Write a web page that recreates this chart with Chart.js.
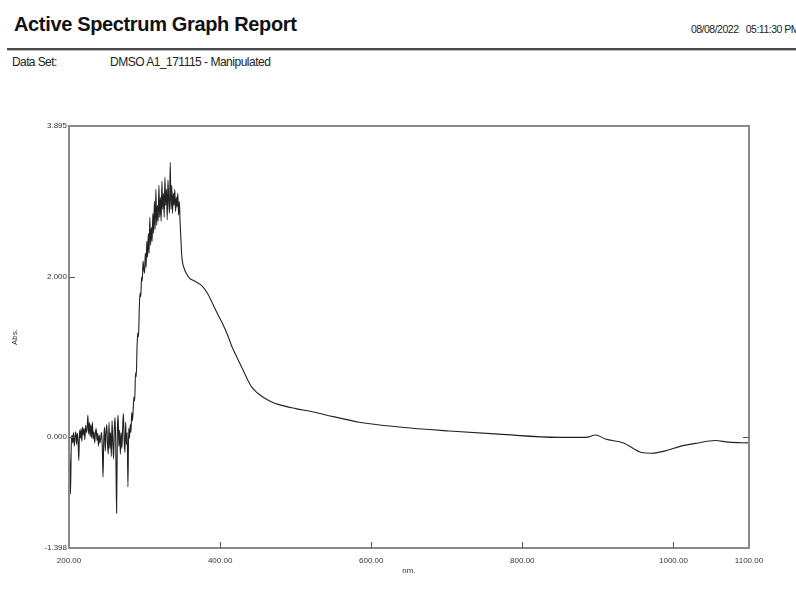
<!DOCTYPE html>
<html>
<head>
<meta charset="utf-8">
<script src="https://cdn.jsdelivr.net/npm/chart.js@4/dist/chart.umd.min.js"></script>
<style>
  html, body { margin: 0; padding: 0; background: #fff; }
  body { width: 796px; height: 592px; position: relative; overflow: hidden; font-family: 'Liberation Sans', Arial, sans-serif; color: #111; }
  .txt { position: absolute; line-height: 1; white-space: nowrap; }
  #title { left: 14px; top: 14px; font-size: 20px; font-weight: bold; letter-spacing: -0.35px; }
  #stamp { right: -3px; top: 24px; font-size: 10.5px; letter-spacing: -0.5px; color: #222; }
  #rule { position: absolute; left: 7px; right: 0; top: 48px; height: 2px; background: #4a4a4a; border-bottom: 1px solid #bbb; }
  #dsLabel { left: 12px; top: 56px; font-size: 12px; letter-spacing: -0.6px; color: #222; }
  #dsName { left: 110px; top: 56px; font-size: 12px; letter-spacing: -0.5px; color: #222; }
  canvas { position: absolute; left: 0; top: 0; }
</style>
</head>
<body>
<div id="title" class="txt">Active Spectrum Graph Report</div>
<div id="stamp" class="txt">08/08/2022&nbsp;&nbsp;&nbsp;05:11:30 PM</div>
<div id="rule"></div>
<div id="dsLabel" class="txt">Data Set:</div>
<div id="dsName" class="txt">DMSO A1_171115 - Manipulated</div>
<canvas id="spectrum" width="796" height="592"></canvas>
<script>
// noisy baseline, 200-284 nm, one reading per nm
const NOISE_NM = [
  200, 201, 202, 203, 204, 205, 206, 207, 208, 209, 210, 211, 212, 213, 214, 215, 216, 217, 218, 219,
  220, 221, 222, 223, 224, 225, 226, 227, 228, 229, 230, 231, 232, 233, 234, 235, 236, 237, 238, 239,
  240, 241, 242, 243, 244, 245, 246, 247, 248, 249, 250, 251, 252, 253, 254, 255, 256, 257, 258, 259,
  260, 261, 262, 263, 264, 265, 266, 267, 268, 269, 270, 271, 272, 273, 274, 275, 276, 277, 278, 279,
  280, 281, 282, 283, 284
]
const NOISE_ABS = [
  -0.05, -0.30, -0.72, -0.10, 0.02, -0.08, 0.05, -0.12, 0.00, 0.06, -0.10, 0.04, -0.06, -0.30, 0.08, -0.02, 0.10, -0.06, 0.12, 0.02,
  0.10, -0.04, 0.14, 0.05, 0.10, 0.27, 0.03, 0.18, 0.00, 0.15, -0.02, 0.18, -0.03, 0.06, -0.08, 0.05, 0.10, -0.05, 0.04, -0.12,
  0.02, -0.08, -0.02, 0.05, -0.10, -0.51, -0.05, 0.12, -0.18, 0.05, 0.15, -0.10, -0.22, 0.18, -0.15, 0.05, -0.25, 0.20, -0.08, -0.28,
  0.10, 0.24, -0.20, -0.96, 0.05, 0.27, -0.12, 0.08, -0.22, 0.05, -0.15, 0.10, 0.29, -0.05, -0.20, 0.18, -0.10, 0.05, -0.63, 0.10,
  -0.02, 0.15, 0.05, 0.30, 0.20
]
// steep rise and noisy peak, 285-355 nm
const PEAK_NM = [
  285, 286, 287, 288, 289, 290, 291, 292, 293, 294, 295, 296, 297, 298, 299,
  300, 301, 302, 303, 304, 305, 306, 307, 308, 309, 310, 311, 312, 313, 314, 315, 316, 317, 318, 319,
  320, 321, 322, 323, 324, 325, 326, 327, 328, 329, 330, 331, 332, 333, 334, 335, 336, 337, 338, 339,
  340, 341, 342, 343, 344, 345, 346, 347, 348, 349, 350, 352, 355
]
const PEAK_ABS = [
  0.35, 0.50, 0.45, 0.80, 0.75, 1.10, 1.30, 1.25, 1.60, 1.80, 1.75, 2.00, 1.95, 2.20, 2.10,
  2.05, 2.30, 2.12, 2.45, 2.25, 2.55, 2.30, 2.75, 2.40, 2.62, 2.45, 2.80, 2.55, 2.95, 2.60, 3.10, 2.65, 2.90, 2.70, 3.15,
  2.75, 3.00, 2.70, 3.20, 2.85, 3.05, 2.75, 3.25, 2.90, 3.10, 2.72, 3.22, 2.95, 2.80, 3.44, 2.85, 3.15, 2.80, 3.05, 2.90,
  3.10, 2.82, 3.00, 2.88, 3.05, 2.78, 2.95, 2.70, 2.50, 2.30, 2.20, 2.12, 2.05
]
// smooth tail, 360-1100 nm
const TAIL_NM = [
  360, 364, 370, 376, 383, 390, 396, 403, 410, 416, 423, 430, 436, 442, 449, 456,
  467, 478, 500, 522, 550, 584, 637, 703, 769, 848, 884, 897, 910, 934, 958, 971,
  989, 1010, 1033, 1055, 1073, 1100
]
const TAIL_ABS = [
  1.98, 1.96, 1.93, 1.89, 1.80, 1.67, 1.55, 1.42, 1.27, 1.12, 0.98, 0.84, 0.72, 0.62, 0.55, 0.50,
  0.44, 0.40, 0.35, 0.31, 0.25, 0.18, 0.12, 0.07, 0.03, -0.01, -0.01, 0.02, -0.03, -0.08, -0.20, -0.21,
  -0.18, -0.12, -0.08, -0.05, -0.07, -0.08
]
const X_TICKS = [200, 400, 600, 800, 1000, 1100]
const Y_TICKS = [-1.398, 0, 2, 3.895]
const X_MARKS = [400, 600, 800, 1000]
const Y_MARKS = [0, 2]

const FRAME = '#8a8a8a'
const TICK_FONT = { family: "'Liberation Sans', Arial, sans-serif", size: 8 }

// frame and the little inward tick marks the report draws
const framePlugin = {
  id: 'frame',
  afterDraw (chart) {
    const { ctx, chartArea: a, scales: { x, y } } = chart
    ctx.save()
    ctx.strokeStyle = FRAME
    ctx.lineWidth = 2
    ctx.strokeRect(a.left, a.top, a.right - a.left, a.bottom - a.top)
    ctx.lineWidth = 1
    ctx.strokeStyle = '#555'
    ctx.beginPath()
    X_MARKS.forEach(v => {
      const px = Math.round(x.getPixelForValue(v)) + 0.5
      ctx.moveTo(px, a.bottom)
      ctx.lineTo(px, a.bottom - 6)
    })
    Y_MARKS.forEach(v => {
      const py = Math.round(y.getPixelForValue(v)) + 0.5
      ctx.moveTo(a.left, py)
      ctx.lineTo(a.left + 6, py)
    })
    const p0 = Math.round(y.getPixelForValue(0)) + 0.5
    ctx.moveTo(a.right, p0)
    ctx.lineTo(a.right - 6, p0)
    ctx.stroke()
    ctx.restore()
  }
}

const wavelengths = [...NOISE_NM, ...PEAK_NM, ...TAIL_NM]
const absorbance = [...NOISE_ABS, ...PEAK_ABS, ...TAIL_ABS]
const points = wavelengths.map((w, i) => ({ x: w, y: absorbance[i] }))

new Chart(document.getElementById('spectrum').getContext('2d'), {
  type: 'line',
  data: {
    datasets: [{
      data: points,
      borderColor: '#222',
      borderWidth: 1.1,
      pointRadius: 0,
      cubicInterpolationMode: 'monotone',
      fill: false
    }]
  },
  options: {
    responsive: false,
    animation: false,
    layout: { padding: { left: 0, right: 47, top: 126, bottom: 0 } },
    plugins: { legend: { display: false }, tooltip: { enabled: false } },
    scales: {
      x: {
        type: 'linear',
        min: 200,
        max: 1100,
        afterBuildTicks: (s) => { s.ticks = X_TICKS.map(v => ({ value: v })) },
        afterFit: (s) => { s.height = 44 },
        grid: { display: false, drawTicks: false },
        border: { display: false },
        ticks: {
          autoSkip: false,
          maxRotation: 0,
          padding: 8,
          color: '#333',
          font: TICK_FONT,
          callback: (v) => Number(v).toFixed(2)
        },
        title: { display: true, text: 'nm.', color: '#333', font: TICK_FONT, padding: { top: 0, bottom: 16 } }
      },
      y: {
        type: 'linear',
        min: -1.398,
        max: 3.895,
        afterBuildTicks: (s) => { s.ticks = Y_TICKS.map(v => ({ value: v })) },
        afterFit: (s) => { s.width = 69 },
        grid: { display: false, drawTicks: false },
        border: { display: false },
        ticks: {
          autoSkip: false,
          padding: 2,
          color: '#333',
          font: TICK_FONT,
          callback: (v) => Number(v).toFixed(3)
        },
        title: { display: true, text: 'Abs.', color: '#333', font: TICK_FONT, padding: { top: 10, bottom: 0 } }
      }
    }
  },
  plugins: [framePlugin]
})
</script>
</body>
</html>
